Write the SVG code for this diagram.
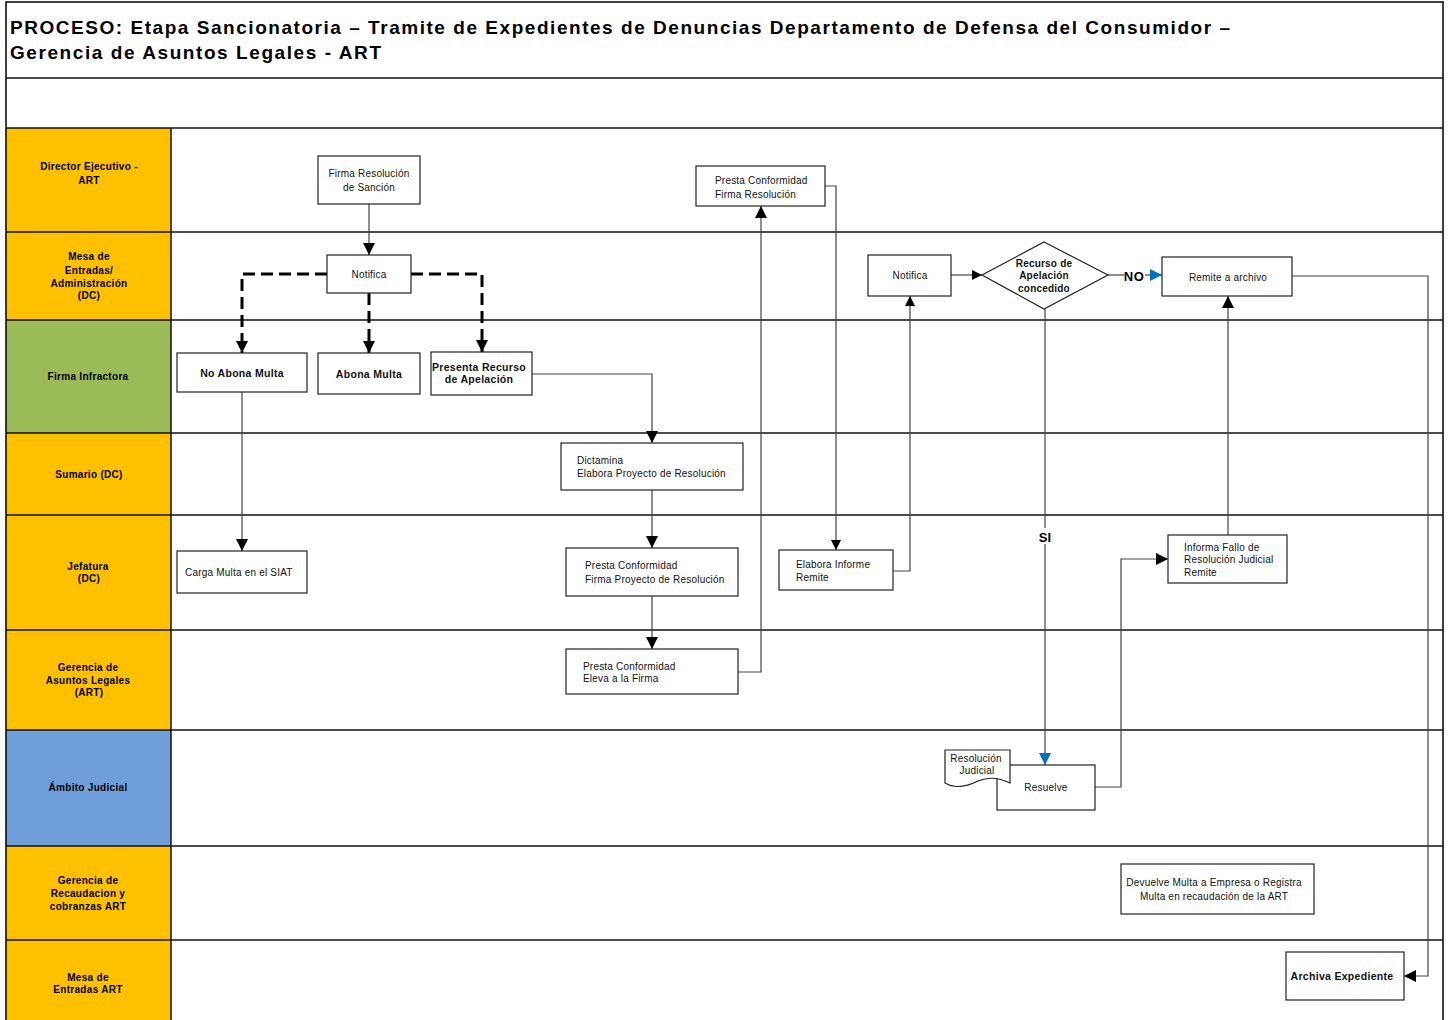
<svg xmlns="http://www.w3.org/2000/svg" width="1449" height="1020" viewBox="0 0 1449 1020">
<style>
.frame{fill:none;stroke:#000;stroke-width:1.5}
.div{stroke:#111;stroke-width:1.5}
.lbl{font-family:"Liberation Sans",Arial,sans-serif;font-size:10px;font-weight:bold;fill:#000;text-anchor:middle;letter-spacing:0.3px}
.box{fill:#fff;stroke:#222;stroke-width:1.2}
.t{font-family:"Liberation Sans",Arial,sans-serif;font-size:10px;fill:#111;letter-spacing:0.2px}
.tc{text-anchor:middle}
.tb{font-weight:bold;font-size:10.5px;letter-spacing:0.3px}
.title{font-family:"Liberation Sans",Arial,sans-serif;font-size:19px;font-weight:bold;fill:#000}
.c{fill:none;stroke:#444;stroke-width:1.2}
.d{fill:none;stroke:#000;stroke-width:3;stroke-dasharray:12 6}
.y{fill:#FFC000}
</style>
<defs>
<marker id="ah" viewBox="0 0 12 12" refX="12" refY="6" markerWidth="12" markerHeight="12" markerUnits="userSpaceOnUse" orient="auto"><path d="M0,0 L12,6 L0,12 z" fill="#000"/></marker>
<marker id="ahs" viewBox="0 0 12 12" refX="12" refY="6" markerWidth="10" markerHeight="10" markerUnits="userSpaceOnUse" orient="auto"><path d="M0,0 L12,6 L0,12 z" fill="#000"/></marker>
<marker id="ahb" viewBox="0 0 12 12" refX="12" refY="6" markerWidth="12" markerHeight="12" markerUnits="userSpaceOnUse" orient="auto"><path d="M0,0 L12,6 L0,12 z" fill="#0070C0"/></marker>
</defs>
<rect width="1449" height="1020" fill="#fff"/>

<g id="lanes">
<rect class="y" x="6" y="128" width="165" height="104"/>
<rect class="y" x="6" y="232" width="165" height="88"/>
<rect x="6" y="320" width="165" height="113" fill="#9BBB59"/>
<rect class="y" x="6" y="433" width="165" height="82"/>
<rect class="y" x="6" y="515" width="165" height="115"/>
<rect class="y" x="6" y="630" width="165" height="100"/>
<rect x="6" y="730" width="165" height="116" fill="#6F9FDB"/>
<rect class="y" x="6" y="846" width="165" height="94"/>
<rect class="y" x="6" y="940" width="165" height="80"/>
<rect class="frame" x="6" y="2" width="1437" height="1030"/>
<line class="div" x1="6" y1="78" x2="1443" y2="78"/>
<line class="div" x1="6" y1="128" x2="1443" y2="128"/>
<line class="div" x1="6" y1="232" x2="1443" y2="232"/>
<line class="div" x1="6" y1="320" x2="1443" y2="320"/>
<line class="div" x1="6" y1="433" x2="1443" y2="433"/>
<line class="div" x1="6" y1="515" x2="1443" y2="515"/>
<line class="div" x1="6" y1="630" x2="1443" y2="630"/>
<line class="div" x1="6" y1="730" x2="1443" y2="730"/>
<line class="div" x1="6" y1="846" x2="1443" y2="846"/>
<line class="div" x1="6" y1="940" x2="1443" y2="940"/>
<line class="div" x1="171" y1="128" x2="171" y2="1020"/>
<text class="lbl"><tspan x="89" y="170">Director Ejecutivo  -</tspan><tspan x="89" y="184">ART</tspan></text>
<text class="lbl"><tspan x="89" y="260">Mesa de</tspan><tspan x="89" y="274">Entradas/</tspan><tspan x="89" y="287">Administración</tspan><tspan x="89" y="299">(DC)</tspan></text>
<text class="lbl" x="88" y="380">Firma Infractora</text>
<text class="lbl" x="89" y="478">Sumario  (DC)</text>
<text class="lbl"><tspan x="88" y="570">Jefatura</tspan><tspan x="89" y="582">(DC)</tspan></text>
<text class="lbl"><tspan x="88" y="671">Gerencia de</tspan><tspan x="88" y="684">Asuntos Legales</tspan><tspan x="89" y="696">(ART)</tspan></text>
<text class="lbl" x="88" y="791">Ámbito Judicial</text>
<text class="lbl"><tspan x="88" y="884">Gerencia de</tspan><tspan x="88" y="897">Recaudacion y</tspan><tspan x="88" y="910">cobranzas ART</tspan></text>
<text class="lbl"><tspan x="88" y="981">Mesa de</tspan><tspan x="88" y="993">Entradas ART</tspan></text>
</g>

<g id="title">
<text class="title" x="10" y="34" textLength="1220" lengthAdjust="spacing">PROCESO: Etapa Sancionatoria – Tramite de Expedientes de Denuncias Departamento de Defensa del Consumidor –</text>
<text class="title" x="10" y="59" textLength="371" lengthAdjust="spacing">Gerencia de Asuntos Legales - ART</text>
</g>

<g id="connectors">
<path class="c" d="M369,204 V255" marker-end="url(#ah)"/>
<path class="d" d="M327,274 H242 V353" marker-end="url(#ah)"/>
<path class="d" d="M369,293 V353" marker-end="url(#ah)"/>
<path class="d" d="M411,274 H482 V352" marker-end="url(#ah)"/>
<path class="c" d="M242,392 V551" marker-end="url(#ah)"/>
<path class="c" d="M532,374 H652 V443" marker-end="url(#ah)"/>
<path class="c" d="M652,490 V548" marker-end="url(#ah)"/>
<path class="c" d="M652,596 V649" marker-end="url(#ah)"/>
<path class="c" d="M738,672 H761 V206" marker-end="url(#ah)"/>
<path class="c" d="M825,186 H836 V550" marker-end="url(#ahs)"/>
<path class="c" d="M893,571 H910 V296" marker-end="url(#ahs)"/>
<path class="c" d="M951,275 H982" marker-end="url(#ahs)"/>
<path class="c" d="M1108,275 H1124"/>
<path class="c" d="M1145,275 H1162" marker-end="url(#ahb)"/>
<text x="1134" y="281" font-family="Liberation Sans,Arial,sans-serif" font-size="13" font-weight="bold" text-anchor="middle" letter-spacing="0.5">NO</text>
<path class="c" d="M1045,309 V765" marker-end="url(#ahb)"/>
<rect x="1037" y="528" width="17" height="16" fill="#fff"/>
<text x="1045" y="542" font-family="Liberation Sans,Arial,sans-serif" font-size="13" font-weight="bold" text-anchor="middle">SI</text>
<path class="c" d="M1095,787 H1121 V559 H1168" marker-end="url(#ah)"/>
<path class="c" d="M1228,535 V296" marker-end="url(#ah)"/>
<path class="c" d="M1292,276 H1428 V976 H1404" marker-end="url(#ah)"/>
</g>

<g id="n_firma_sancion"><rect class="box" x="318" y="156" width="102" height="48"/><text class="t tc"><tspan x="369" y="177">Firma Resolución</tspan><tspan x="369" y="191">de Sanción</tspan></text></g>
<g id="n_notifica1"><rect class="box" x="327" y="255" width="84" height="38"/><text class="t tc" x="369" y="278">Notifica</text></g>
<g id="n_no_abona"><rect class="box" x="177" y="353" width="130" height="39"/><text class="t tc tb" x="242" y="377">No Abona Multa</text></g>
<g id="n_abona"><rect class="box" x="318" y="353" width="102" height="41"/><text class="t tc tb" x="369" y="378">Abona Multa</text></g>
<g id="n_recurso"><rect class="box" x="431" y="352" width="101" height="43"/><text class="t tc tb"><tspan x="479" y="371">Presenta Recurso</tspan><tspan x="479" y="383">de Apelación</tspan></text></g>
<g id="n_carga"><rect class="box" x="177" y="551" width="130" height="42"/><text class="t" x="185" y="576">Carga Multa en el SIAT</text></g>
<g id="n_dictamina"><rect class="box" x="561" y="443" width="182" height="47"/><text class="t"><tspan x="577" y="464">Dictamina</tspan><tspan x="577" y="477">Elabora Proyecto de Resolución</tspan></text></g>
<g id="n_firma_proyecto"><rect class="box" x="566" y="548" width="172" height="48"/><text class="t"><tspan x="585" y="569">Presta Conformidad</tspan><tspan x="585" y="583">Firma Proyecto de Resolución</tspan></text></g>
<g id="n_eleva"><rect class="box" x="566" y="649" width="172" height="45"/><text class="t"><tspan x="583" y="670">Presta Conformidad</tspan><tspan x="583" y="682">Eleva a la Firma</tspan></text></g>
<g id="n_firma_resolucion"><rect class="box" x="696" y="166" width="129" height="40"/><text class="t"><tspan x="715" y="184">Presta Conformidad</tspan><tspan x="715" y="198">Firma Resolución</tspan></text></g>
<g id="n_informe"><rect class="box" x="779" y="550" width="114" height="40"/><text class="t"><tspan x="796" y="568">Elabora Informe</tspan><tspan x="796" y="581">Remite</tspan></text></g>
<g id="n_notifica2"><rect class="box" x="868" y="255" width="83" height="41"/><text class="t tc" x="910" y="279">Notifica</text></g>
<g id="n_decision"><path class="box" d="M1044,242 L1108,275 L1044,309 L982,275 Z"/><text class="t tc" font-weight="bold"><tspan x="1044" y="267">Recurso de</tspan><tspan x="1044" y="279">Apelación</tspan><tspan x="1044" y="292">concedido</tspan></text></g>
<g id="n_remite_archivo"><rect class="box" x="1162" y="257" width="130" height="39"/><text class="t tc" x="1228" y="281">Remite a archivo</text></g>
<g id="n_informa_fallo"><rect class="box" x="1168" y="535" width="119" height="48"/><text class="t"><tspan x="1184" y="551">Informa Fallo de</tspan><tspan x="1184" y="563">Resolución Judicial</tspan><tspan x="1184" y="576">Remite</tspan></text></g>
<g id="n_resuelve"><rect class="box" x="997" y="765" width="98" height="45"/><text class="t tc" x="1046" y="791">Resuelve</text></g>
<g id="n_resolucion_judicial"><path class="box" d="M945,750 H1010 V783 C1000,778 990,776 978,781 C968,786 955,789 945,783 Z"/><text class="t tc"><tspan x="976" y="762">Resolución</tspan><tspan x="977" y="774">Judicial</tspan></text></g>
<g id="n_devuelve"><rect class="box" x="1121" y="864" width="193" height="50"/><text class="t tc"><tspan x="1214" y="886">Devuelve Multa a Empresa o Registra</tspan><tspan x="1214" y="900">Multa en recaudación de la ART</tspan></text></g>
<g id="n_archiva"><rect class="box" x="1286" y="952" width="118" height="48"/><text class="t tc tb" x="1342" y="980">Archiva Expediente</text></g>
</svg>
